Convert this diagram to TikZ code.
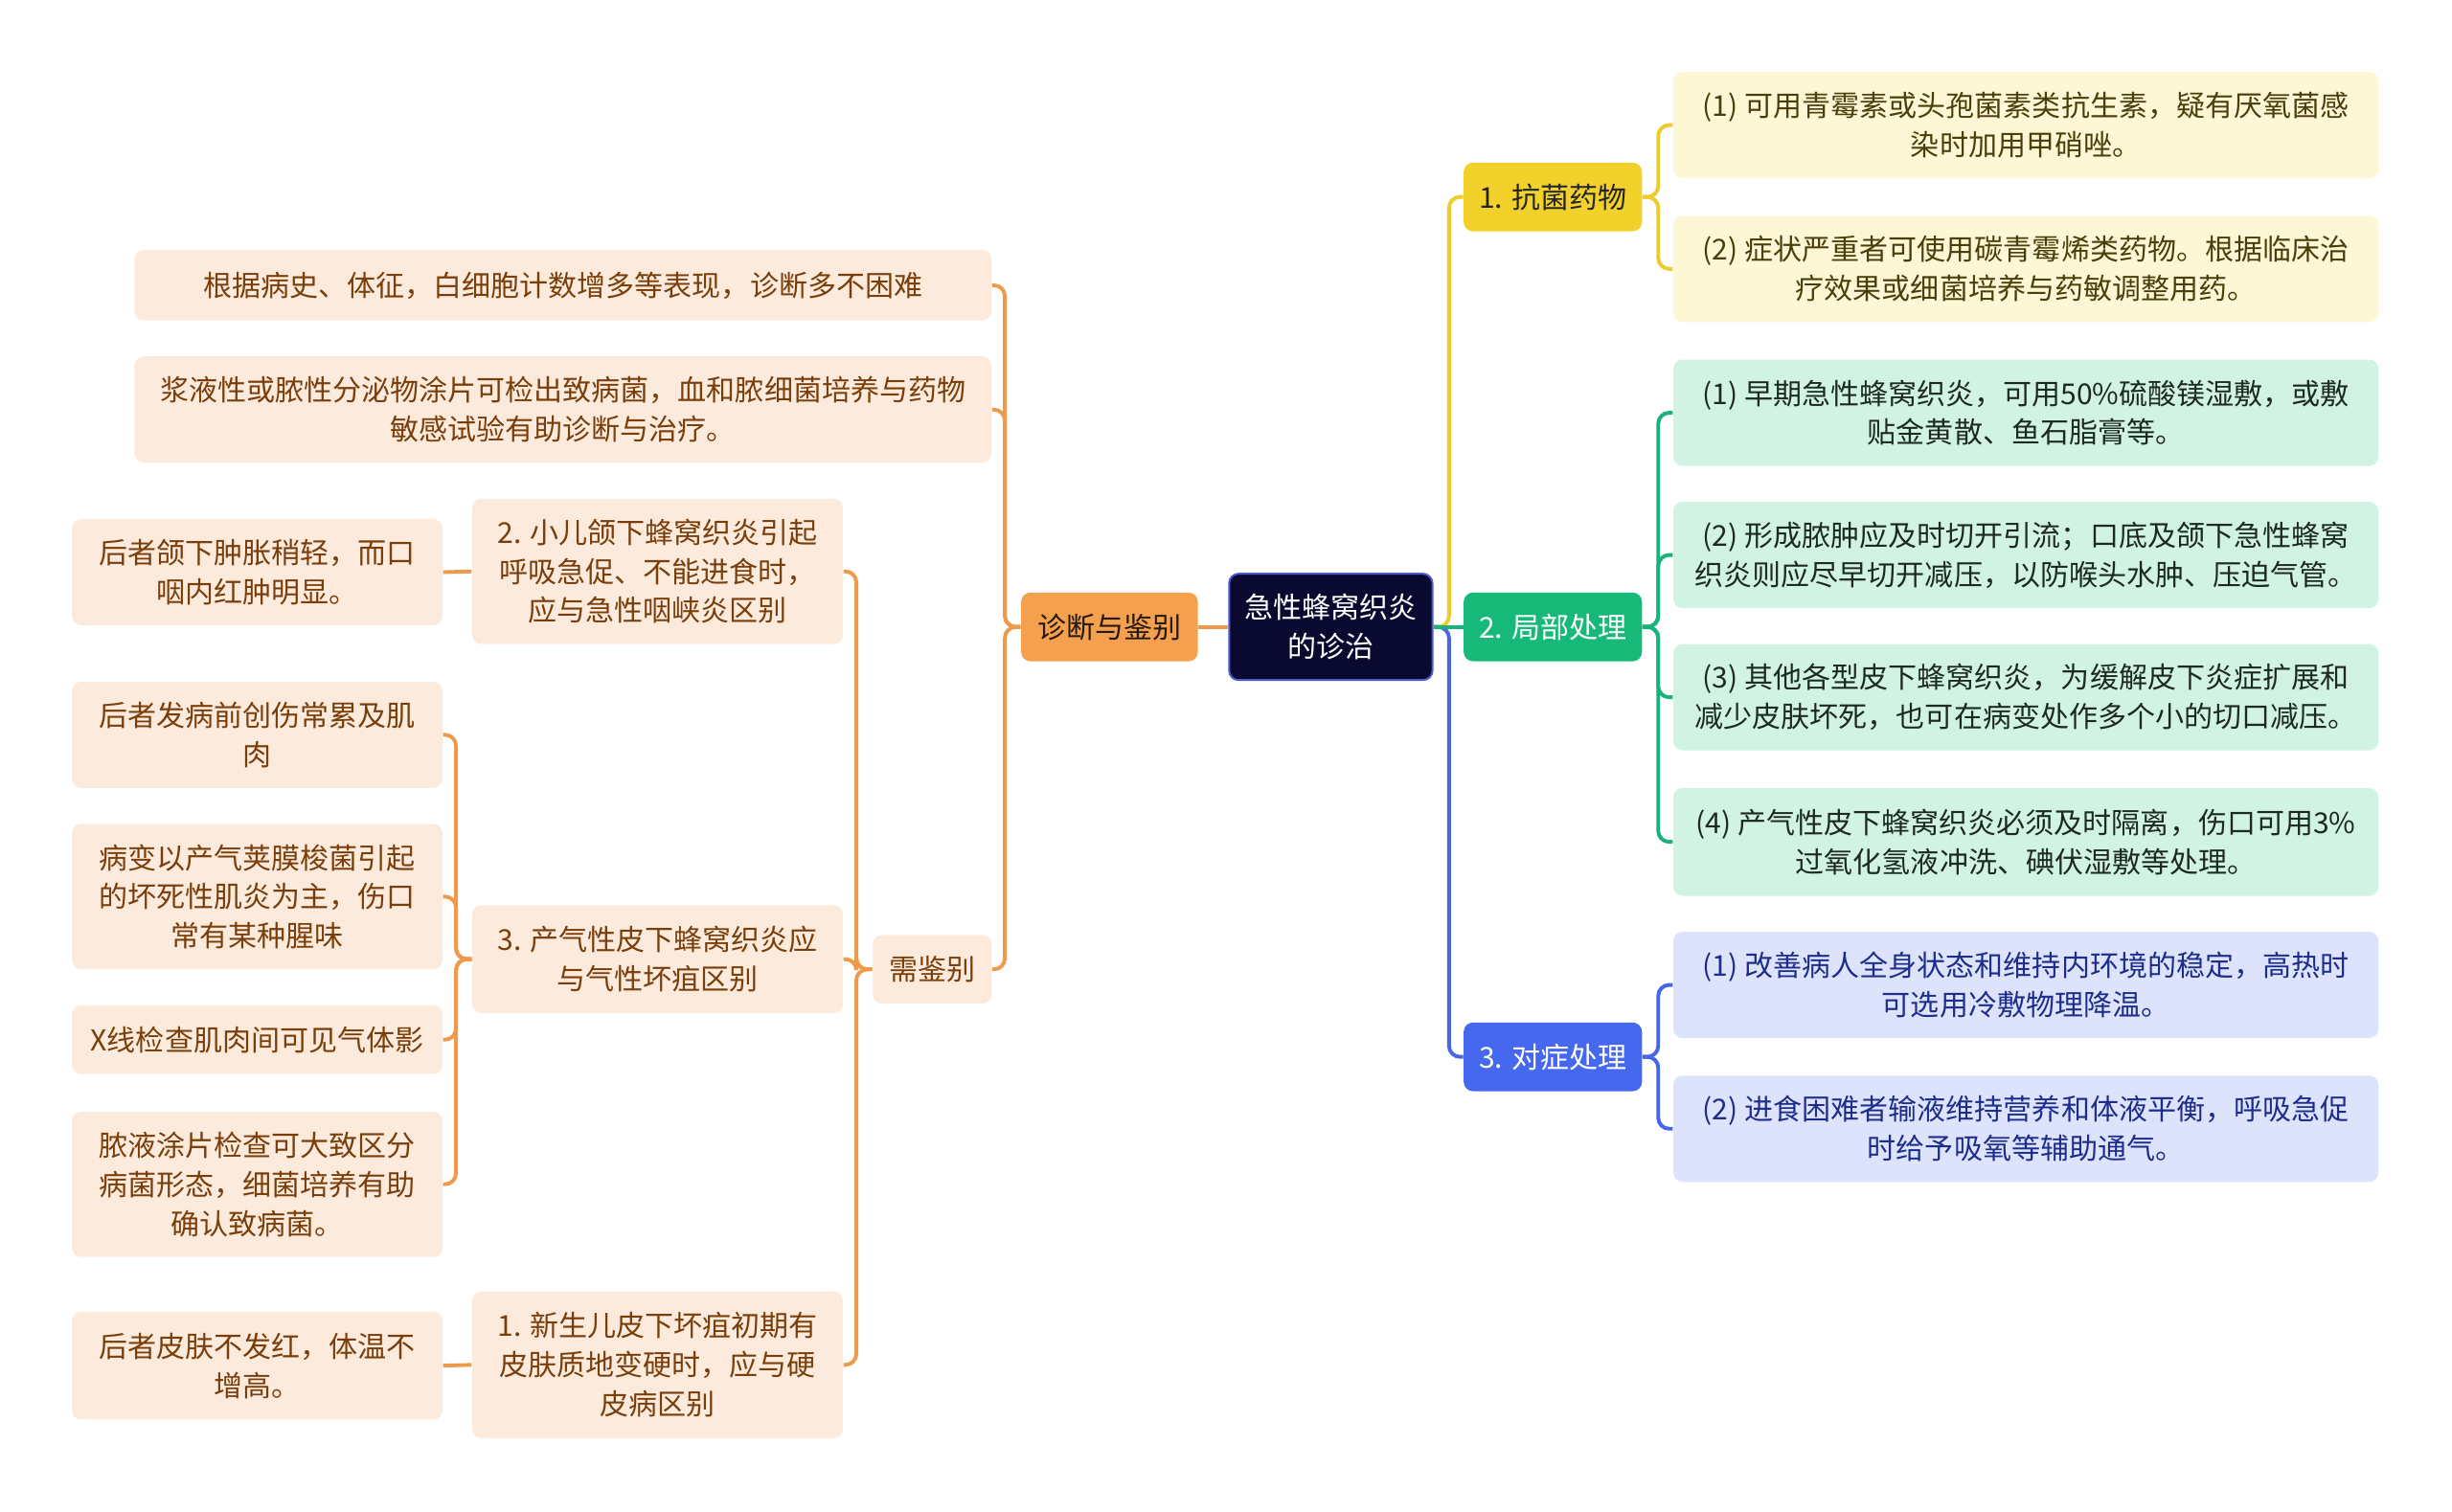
\documentclass[tikz,border=0pt]{standalone}
\usepackage{fontspec}
\setmainfont{Noto Sans CJK SC}
\definecolor{rootfill}{HTML}{0A0A30}
\definecolor{rootdraw}{HTML}{4A5BD4}
\definecolor{ofill}{HTML}{F5A04E}
\definecolor{oline}{HTML}{EE9A4A}
\definecolor{oleaf}{HTML}{FCEBDC}
\definecolor{otext}{HTML}{7A3E0B}
\definecolor{yfill}{HTML}{F2D12A}
\definecolor{yline}{HTML}{EDCB2A}
\definecolor{yleaf}{HTML}{FDF7D6}
\definecolor{ytext}{HTML}{4A3F0A}
\definecolor{gfill}{HTML}{16B978}
\definecolor{gline}{HTML}{19B27A}
\definecolor{gleaf}{HTML}{D1F3E3}
\definecolor{gtext}{HTML}{1C2A22}
\definecolor{bfill}{HTML}{4668EE}
\definecolor{bline}{HTML}{4765E8}
\definecolor{bleaf}{HTML}{DDE3FA}
\definecolor{btext}{HTML}{1E2D8C}
\tikzset{
  box/.style={rounded corners=3pt, align=center, inner sep=0pt},
  rootbox/.style={box, fill=rootfill, draw=rootdraw, line width=0.6pt, text=white},
  obox/.style={box, fill=ofill, text=black!80!brown},
  ybox/.style={box, fill=yfill, text=black!85},
  gbox/.style={box, fill=gfill, text=white},
  bbox/.style={box, fill=bfill, text=white},
  oleafbox/.style={box, fill=oleaf, text=otext},
  yleafbox/.style={box, fill=yleaf, text=ytext},
  gleafbox/.style={box, fill=gleaf, text=gtext},
  bleafbox/.style={box, fill=bleaf, text=btext},
  conn/.style={line width=1.2pt, rounded corners=3.5pt},
  co/.style={conn, draw=oline},
  cy/.style={conn, draw=yline},
  cg/.style={conn, draw=gline},
  cb/.style={conn, draw=bline},
}
\begin{document}
\begin{tikzpicture}[x=0.5pt, y=-0.5pt, font=\fontsize{9.2pt}{12.5pt}\selectfont]
\useasboundingbox[fill=white] (0,0) rectangle (1568,967);

% root
\node[rootbox, minimum width=65pt, minimum height=34pt] (root) at (851,401) {急性蜂窝织炎\\的诊治};

% left main
\node[obox, minimum width=56.5pt, minimum height=22pt] (diag) at (709.5,401) {诊断与鉴别};
\node[oleafbox, minimum width=274pt, minimum height=22.5pt] (l1) at (360,182.5) {根据病史、体征，白细胞计数增多等表现，诊断多不困难};
\node[oleafbox, minimum width=274pt, minimum height=34pt] (l2) at (360,262) {浆液性或脓性分泌物涂片可检出致病菌，血和脓细菌培养与药物\\敏感试验有助诊断与治疗。};
\node[oleafbox, minimum width=38pt, minimum height=22pt] (need) at (596,620) {需鉴别};
\node[oleafbox, minimum width=118.5pt, minimum height=46.5pt] (c2) at (420.5,365.5) {2. 小儿颌下蜂窝织炎引起\\呼吸急促、不能进食时，\\应与急性咽峡炎区别};
\node[oleafbox, minimum width=118.5pt, minimum height=34.5pt] (c3) at (420.5,613.5) {3. 产气性皮下蜂窝织炎应\\与气性坏疽区别};
\node[oleafbox, minimum width=118.5pt, minimum height=47pt] (c1) at (420.5,873) {1. 新生儿皮下坏疽初期有\\皮肤质地变硬时，应与硬\\皮病区别};
\node[oleafbox, minimum width=118.5pt, minimum height=34pt] (d2) at (164.5,366) {后者颌下肿胀稍轻，而口\\咽内红肿明显。};
\node[oleafbox, minimum width=118.5pt, minimum height=34pt] (d31) at (164.5,470) {后者发病前创伤常累及肌\\肉};
\node[oleafbox, minimum width=118.5pt, minimum height=46.5pt] (d32) at (164.5,573.5) {病变以产气荚膜梭菌引起\\的坏死性肌炎为主，伤口\\常有某种腥味};
\node[oleafbox, minimum width=118.5pt, minimum height=22pt] (d33) at (164.5,665) {X线检查肌肉间可见气体影};
\node[oleafbox, minimum width=118.5pt, minimum height=46.5pt] (d34) at (164.5,757.5) {脓液涂片检查可大致区分\\病菌形态，细菌培养有助\\确认致病菌。};
\node[oleafbox, minimum width=118.5pt, minimum height=34.5pt] (d1) at (164.5,873.5) {后者皮肤不发红，体温不\\增高。};

% right main
\node[ybox, minimum width=57pt, minimum height=22pt] (k1) at (993,126) {1. 抗菌药物};
\node[gbox, minimum width=57pt, minimum height=22pt] (k2) at (993,401) {2. 局部处理};
\node[bbox, minimum width=57pt, minimum height=22pt] (k3) at (993,676) {3. 对症处理};

\node[yleafbox, minimum width=225.5pt, minimum height=34pt] (y1) at (1295.5,80) {(1) 可用青霉素或头孢菌素类抗生素，疑有厌氧菌感\\染时加用甲硝唑。};
\node[yleafbox, minimum width=225.5pt, minimum height=34pt] (y2) at (1295.5,172) {(2) 症状严重者可使用碳青霉烯类药物。根据临床治\\疗效果或细菌培养与药敏调整用药。};
\node[gleafbox, minimum width=225.5pt, minimum height=34pt] (g1) at (1295.5,264) {(1) 早期急性蜂窝织炎，可用50\%硫酸镁湿敷，或敷\\贴金黄散、鱼石脂膏等。};
\node[gleafbox, minimum width=225.5pt, minimum height=34pt] (g2) at (1295.5,355) {(2) 形成脓肿应及时切开引流；口底及颌下急性蜂窝\\织炎则应尽早切开减压，以防喉头水肿、压迫气管。};
\node[gleafbox, minimum width=225.5pt, minimum height=34pt] (g3) at (1295.5,446) {(3) 其他各型皮下蜂窝织炎，为缓解皮下炎症扩展和\\减少皮肤坏死，也可在病变处作多个小的切口减压。};
\node[gleafbox, minimum width=225.5pt, minimum height=34.5pt] (g4) at (1295.5,538.5) {(4) 产气性皮下蜂窝织炎必须及时隔离，伤口可用3\%\\过氧化氢液冲洗、碘伏湿敷等处理。};
\node[bleafbox, minimum width=225.5pt, minimum height=34pt] (b1) at (1295.5,630) {(1) 改善病人全身状态和维持内环境的稳定，高热时\\可选用冷敷物理降温。};
\node[bleafbox, minimum width=225.5pt, minimum height=34pt] (b2) at (1295.5,722) {(2) 进食困难者输液维持营养和体液平衡，呼吸急促\\时给予吸氧等辅助通气。};

% connectors left
\draw[co] (diag.east) -- (root.west);
\draw[co] (diag.west) -- ++(-10,0) |- (l1.east);
\draw[co] (diag.west) -- ++(-10,0) |- (l2.east);
\draw[co] (diag.west) -- ++(-10,0) |- (need.east);
\draw[co] (need.west) -- ++(-10,0) |- (c2.east);
\draw[co] (need.west) -- ++(-10,0) |- (c3.east);
\draw[co] (need.west) -- ++(-10,0) |- (c1.east);
\draw[co] (c2.west) -- (d2.east);
\draw[co] (c1.west) -- (d1.east);
\draw[co] (c3.west) -- ++(-10,0) |- (d31.east);
\draw[co] (c3.west) -- ++(-10,0) |- (d32.east);
\draw[co] (c3.west) -- ++(-10,0) |- (d33.east);
\draw[co] (c3.west) -- ++(-10,0) |- (d34.east);

% connectors right
\draw[cy] (root.east) -- ++(10,0) |- (k1.west);
\draw[cb] (root.east) -- ++(10,0) |- (k3.west);
\draw[cg] (root.east) -- (k2.west);
\draw[cy] (k1.east) -- ++(10,0) |- (y1.west);
\draw[cy] (k1.east) -- ++(10,0) |- (y2.west);
\draw[cg] (k2.east) -- ++(10,0) |- (g1.west);
\draw[cg] (k2.east) -- ++(10,0) |- (g2.west);
\draw[cg] (k2.east) -- ++(10,0) |- (g3.west);
\draw[cg] (k2.east) -- ++(10,0) |- (g4.west);
\draw[cb] (k3.east) -- ++(10,0) |- (b1.west);
\draw[cb] (k3.east) -- ++(10,0) |- (b2.west);
\end{tikzpicture}
\end{document}
